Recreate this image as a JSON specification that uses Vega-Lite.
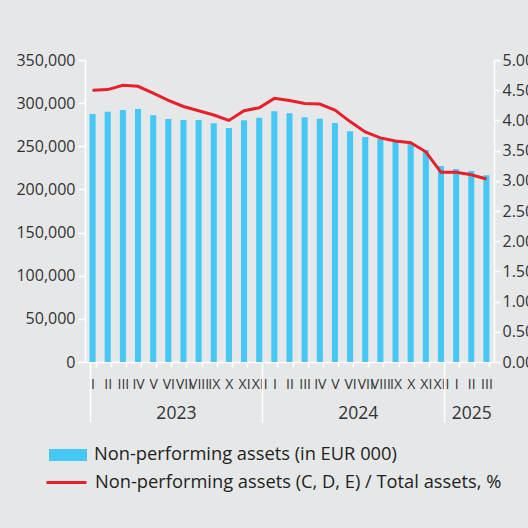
{
  "$schema": "https://vega.github.io/schema/vega-lite/v6.json",
  "width": 409,
  "height": 302,
  "padding": {"left": 15, "top": 52, "right": 0, "bottom": 40},
  "background": "#E6E7E8",
  "config": {
    "view": {"stroke": null},
    "font": "Open Sans",
    "axis": {"labelColor": "#333333", "domainColor": "#FFFFFF", "tickColor": "#FFFFFF", "domainWidth": 1.5, "tickWidth": 1.5, "grid": false, "title": null, "labelFont": "Open Sans"},
    "legend": {"labelFont": "Open Sans", "labelColor": "#231F20", "labelFontSize": 18.3, "labelLimit": 600, "padding": 0, "symbolOffset": 0}
  },
  "data": {
    "values": [
      {"period": "2023 I", "npa": 287400, "ratio": 4.50},
      {"period": "2023 II", "npa": 290100, "ratio": 4.51},
      {"period": "2023 III", "npa": 292000, "ratio": 4.58},
      {"period": "2023 IV", "npa": 293200, "ratio": 4.565},
      {"period": "2023 V", "npa": 285900, "ratio": 4.45},
      {"period": "2023 VI", "npa": 281600, "ratio": 4.33},
      {"period": "2023 VII", "npa": 280500, "ratio": 4.23},
      {"period": "2023 VIII", "npa": 280500, "ratio": 4.16},
      {"period": "2023 IX", "npa": 276600, "ratio": 4.09},
      {"period": "2023 X", "npa": 271200, "ratio": 4.00},
      {"period": "2023 XI", "npa": 280100, "ratio": 4.16},
      {"period": "2023 XII", "npa": 283100, "ratio": 4.21},
      {"period": "2024 I", "npa": 290500, "ratio": 4.365},
      {"period": "2024 II", "npa": 288200, "ratio": 4.33},
      {"period": "2024 III", "npa": 283600, "ratio": 4.28},
      {"period": "2024 IV", "npa": 282000, "ratio": 4.27},
      {"period": "2024 V", "npa": 277000, "ratio": 4.17},
      {"period": "2024 VI", "npa": 267300, "ratio": 3.98},
      {"period": "2024 VII", "npa": 260800, "ratio": 3.81},
      {"period": "2024 VIII", "npa": 258400, "ratio": 3.71},
      {"period": "2024 IX", "npa": 255300, "ratio": 3.66},
      {"period": "2024 X", "npa": 253400, "ratio": 3.63},
      {"period": "2024 XI", "npa": 245700, "ratio": 3.48},
      {"period": "2024 XII", "npa": 227100, "ratio": 3.14},
      {"period": "2025 I", "npa": 223700, "ratio": 3.14},
      {"period": "2025 II", "npa": 221300, "ratio": 3.10},
      {"period": "2025 III", "npa": 216400, "ratio": 3.03}
    ]
  },
  "layer": [
    {
      "mark": {"type": "bar", "color": "#45C8F5"},
      "encoding": {
        "x": {
          "field": "period", "type": "nominal", "sort": null,
          "scale": {"paddingInner": 0.6, "paddingOuter": 0.3},
          "axis": {
            "orient": "bottom",
            "labelExpr": "split(datum.value, ' ')[1]",
            "labelAngle": 0, "labelOverlap": false, "labelBound": false,
            "labelFontSize": 14, "tickSize": 5, "labelPadding": 10, "tickBand": "extent"
          }
        },
        "y": {
          "field": "npa", "type": "quantitative",
          "scale": {"domain": [0, 350000], "nice": false},
          "axis": {"orient": "left", "values": [0, 50000, 100000, 150000, 200000, 250000, 300000, 350000], "format": ",d", "labelFontSize": 16, "tickSize": 7, "labelPadding": 3}
        },
        "fill": {
          "datum": "Non-performing assets (in EUR 000)",
          "scale": {"range": ["#45C8F5"]},
          "legend": {"orient": "none", "legendX": -36, "legendY": 376, "symbolType": "M-1,-0.316H1V0.316H-1Z", "symbolSize": 1444, "symbolStrokeWidth": 0, "labelOffset": 7, "title": null}
        }
      }
    },
    {
      "mark": {"type": "line", "color": "#E8202A", "strokeWidth": 3},
      "encoding": {
        "x": {
          "field": "period", "type": "nominal", "sort": null,
          "axis": {
            "orient": "bottom",
            "labelExpr": "datum.value == '2023 VI' ? '2023' : datum.value == '2024 VI' ? '2024' : datum.value == '2025 II' ? '2025' : ''",
            "labelAngle": 0, "labelOverlap": false, "labelBound": false,
            "labelFontSize": 17.5, "domain": false, "tickSize": 60, "tickBand": "extent",
            "tickOpacity": {"condition": {"test": "datum.extra || datum.value == '2023 XII' || datum.value == '2024 XII'", "value": 1}, "value": 0},
            "labelOffset": {"condition": {"test": "datum.value == '2025 II'", "value": 0}, "value": 7.57},
            "labelPadding": -18
          }
        },
        "y": {
          "field": "ratio", "type": "quantitative",
          "scale": {"domain": [0, 5], "nice": false},
          "axis": {"orient": "right", "values": [0, 0.5, 1, 1.5, 2, 2.5, 3, 3.5, 4, 4.5, 5], "format": ".2f", "labelFontSize": 16, "tickSize": 6, "labelPadding": 2}
        },
        "stroke": {
          "datum": "Non-performing assets (C, D, E) / Total assets, %",
          "scale": {"range": ["#E8202A"]},
          "legend": {"orient": "none", "legendX": -40, "legendY": 401, "symbolType": "stroke", "symbolSize": 1600, "symbolStrokeWidth": 3, "labelOffset": 7, "title": null}
        }
      }
    }
  ],
  "resolve": {"scale": {"y": "independent"}, "axis": {"x": "independent"}}
}
